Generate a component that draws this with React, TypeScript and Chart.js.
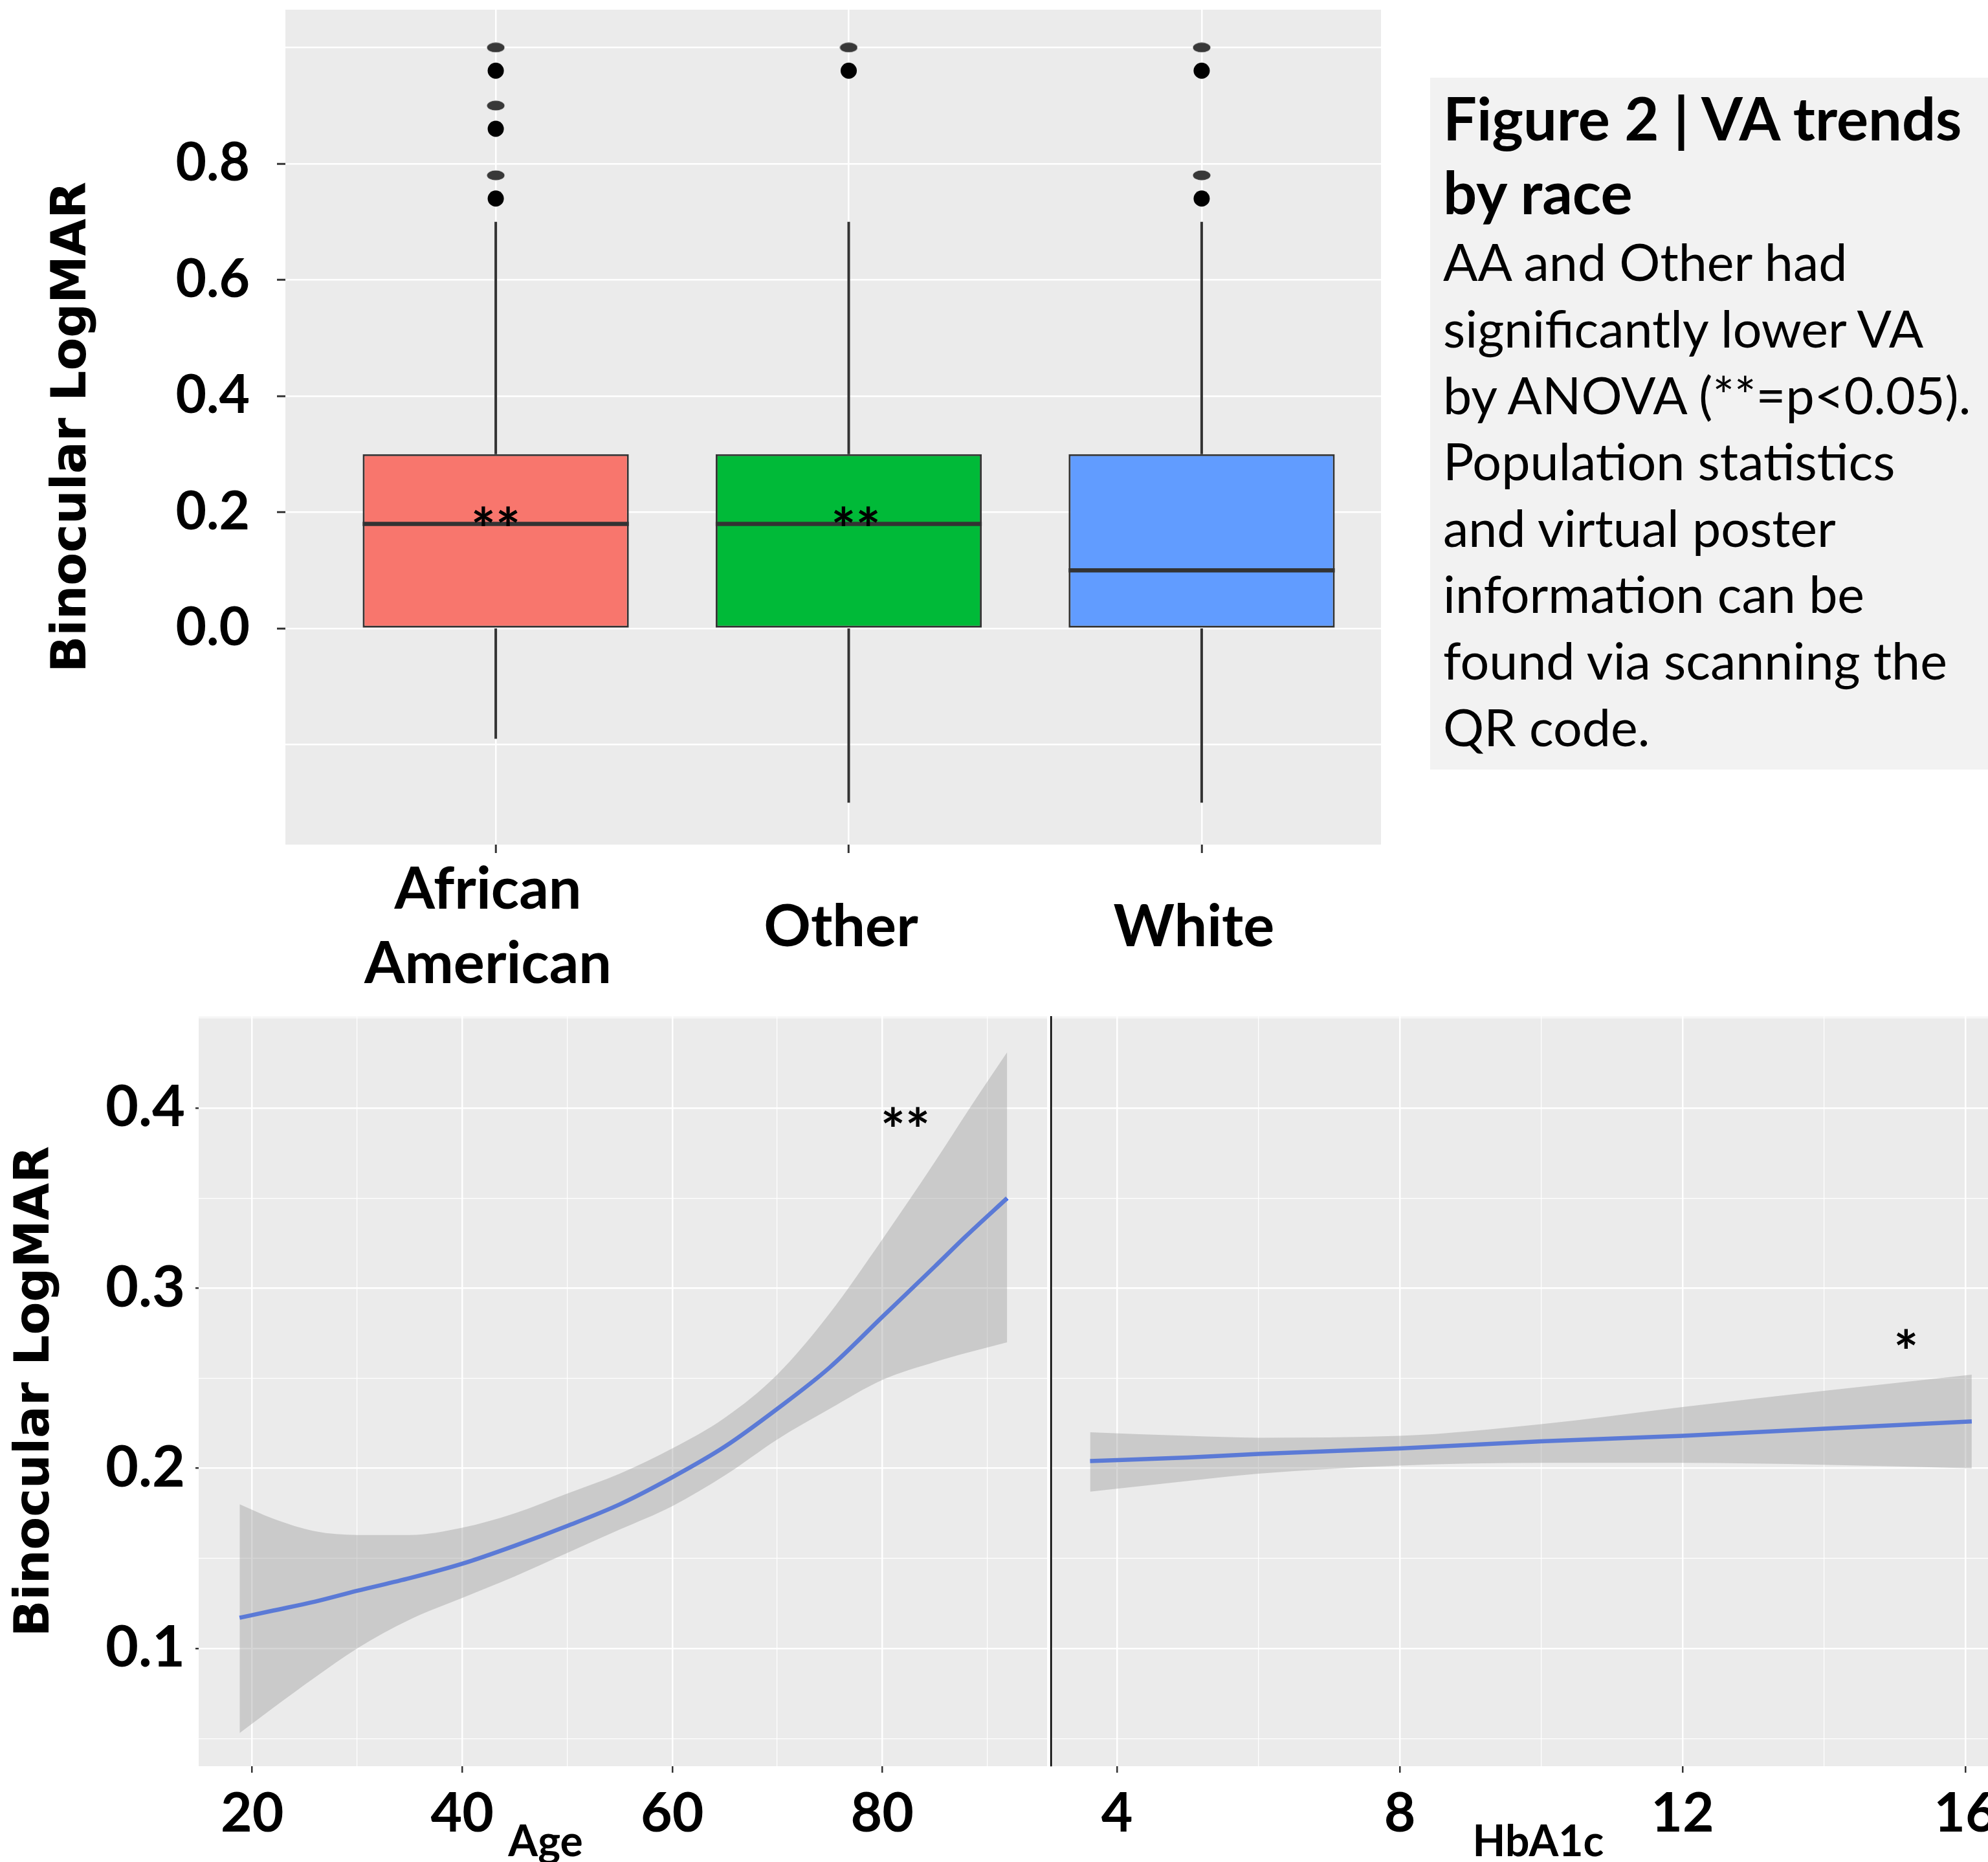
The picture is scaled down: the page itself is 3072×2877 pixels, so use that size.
import React, { useEffect, useRef } from 'react';
import { Chart, registerables } from 'chart.js';

Chart.register(...registerables);
Chart.defaults.font.family = 'Lato';

// ---------- Top panel: box plot by race ----------
const raceLabels: string[][] = [['African', 'American'], ['Other'], ['White']];
const racePositions = [1, 2, 3];
const boxLower = [0, 0, 0];
const boxUpper = [0.3, 0.3, 0.3];
const boxMedian = [0.18, 0.18, 0.1];
const whiskerMin = [-0.19, -0.3, -0.3];
const whiskerMax = [0.7, 0.7, 0.7];
const boxFill = ['#F8766D', '#00BA38', '#619CFF'];
const outlierGrey = [[1.0, 0.9, 0.78], [1.0], [1.0, 0.78]];
const outlierBlack = [[0.96, 0.86, 0.74], [0.96], [0.96, 0.74]];
const boxSigText = ['**', '**'];
const boxSigX = [1, 2.02];
const boxSigY = [0.19, 0.19];
const topGridValues = [-0.2, 0, 0.2, 0.4, 0.6, 0.8, 1.0];
const topLabelValues = [0, 0.2, 0.4, 0.6, 0.8];

// ---------- Bottom panels: smoothed trends ----------
const ageValues = [18.8, 22, 26, 30, 35, 40, 45, 50, 55, 60, 65, 70, 75, 80, 85, 88, 91.9];
const ageFit = [0.117, 0.121, 0.126, 0.132, 0.139, 0.147, 0.157, 0.168, 0.18, 0.195, 0.212, 0.233, 0.256, 0.284, 0.312, 0.329, 0.35];
const ageUpper = [0.18, 0.172, 0.165, 0.163, 0.163, 0.167, 0.175, 0.186, 0.197, 0.211, 0.228, 0.252, 0.286, 0.327, 0.37, 0.397, 0.431];
const ageLower = [0.053, 0.067, 0.084, 0.1, 0.116, 0.128, 0.14, 0.153, 0.166, 0.179, 0.196, 0.216, 0.233, 0.249, 0.259, 0.264, 0.27];
const hbValues = [3.62, 5, 6, 8, 10, 12, 14, 16.09];
const hbFit = [0.204, 0.206, 0.208, 0.211, 0.215, 0.218, 0.222, 0.226];
const hbUpper = [0.22, 0.218, 0.217, 0.218, 0.2245, 0.234, 0.243, 0.252];
const hbLower = [0.187, 0.193, 0.197, 0.2015, 0.203, 0.203, 0.202, 0.2];
const ageSigText = ['**'];
const ageSigX = [82.2];
const ageSigY = [0.394];
const hbSigText = ['*'];
const hbSigX = [15.16];
const hbSigY = [0.271];
const ageMajor = [20, 40, 60, 80];
const ageMinor = [30, 50, 70, 90];
const hbMajor = [4, 8, 12, 16];
const hbMinor = [6, 10, 14];
const trendMajor = [0.1, 0.2, 0.3, 0.4];
const trendMinor = [0.05, 0.15, 0.25, 0.35, 0.45];

const isIn = (list: number[], v: number) => v !== undefined && list.some((t) => Math.abs(t - v) < 1e-6);
const merged = (a: number[], b: number[]) => [...a, ...b].sort((p, q) => p - q).map((value) => ({ value }));

const fixY = (w: number) => (s: any) => {
  s.width = w;
  s.paddingTop = 0; s.paddingBottom = 0; s.paddingLeft = 0; s.paddingRight = 0;
};
const fixX = (h: number) => (s: any) => {
  s.height = h;
  s.paddingTop = 0; s.paddingBottom = 0; s.paddingLeft = 0; s.paddingRight = 0;
};

const panelBg = {
  id: 'panelBg',
  beforeDraw(chart: any) {
    const a = chart.chartArea;
    const c = chart.ctx;
    c.save();
    c.fillStyle = '#EBEBEB';
    c.fillRect(a.left, a.top, a.right - a.left, a.bottom - a.top);
    c.restore();
  },
};

const markPlugin = (texts: string[], xs: number[], ys: number[], size: number) => ({
  id: 'sigMarks',
  afterDatasetsDraw(chart: any) {
    const { ctx, scales } = chart;
    ctx.save();
    ctx.fillStyle = '#000';
    ctx.font = `bold ${size}px Lato`;
    ctx.textAlign = 'center';
    ctx.textBaseline = 'alphabetic';
    texts.forEach((t, i) => {
      const px = scales.x.getPixelForValue(xs[i]);
      const py = scales.y.getPixelForValue(ys[i]);
      ctx.fillText(t, px, py + size * 0.56);
    });
    ctx.restore();
  },
});

const captionPlugin = (text: string, cx: number, baseline: number, size: number) => ({
  id: 'caption',
  afterDraw(chart: any) {
    const c = chart.ctx;
    c.save();
    c.fillStyle = '#000';
    c.font = `bold ${size}px Lato`;
    c.textAlign = 'center';
    c.textBaseline = 'alphabetic';
    c.fillText(text, cx, baseline);
    c.restore();
  },
});

const tickFont = (size: number) => ({ family: 'Lato', weight: 'bold' as const, size });
const yTitle = (pad: number) => ({
  display: true,
  text: 'Binocular LogMAR',
  color: '#000',
  font: { family: 'DejaVu Sans', weight: 'bold' as const, size: 74, lineHeight: 1.2 },
  padding: { top: pad, bottom: 0 },
});

// layout (pixels)
const TOP_W = 2200, TOP_H = 1560;
const TOP_AREA = { left: 441, right: 2134, top: 15, bottom: 1305 };
const BL = { left: 0, top: 1540, w: 1620, h: 1337 };
const BL_AREA = { left: 307, right: 1618, top: 31, bottom: 1189 };
const BR = { left: 1600, top: 1540, w: 1472, h: 1337 };
const BR_AREA = { left: 24, top: 31, bottom: 1189 };
const BOX_FRACTION = 0.754;

function makeGreyDot() {
  const c = document.createElement('canvas');
  c.width = 28; c.height = 16;
  const g = c.getContext('2d')!;
  g.fillStyle = '#383838';
  g.beginPath();
  g.ellipse(14, 8, 13.5, 7.5, 0, 0, Math.PI * 2);
  g.fill();
  return c;
}

function buildTop(canvas: HTMLCanvasElement) {
  const hw = BOX_FRACTION / 2;
  const whiskers: any[] = [];
  const medians: any[] = [];
  const greyPts: any[] = [];
  const blackPts: any[] = [];
  racePositions.forEach((x, i) => {
    whiskers.push({ x, y: boxUpper[i] }, { x, y: whiskerMax[i] }, { x, y: null }, { x, y: boxLower[i] }, { x, y: whiskerMin[i] }, { x, y: null });
    medians.push({ x: x - hw, y: boxMedian[i] }, { x: x + hw, y: boxMedian[i] }, { x, y: null });
    outlierGrey[i].forEach((y) => greyPts.push({ x, y }));
    outlierBlack[i].forEach((y) => blackPts.push({ x, y }));
  });
  const greyDot = makeGreyDot();
  return new Chart(canvas, {
    type: 'line',
    data: {
      datasets: [
        {
          type: 'bar',
          data: racePositions.map((x, i) => ({ x, y: [boxLower[i], boxUpper[i]] })) as any,
          backgroundColor: boxFill,
          borderColor: '#333333',
          borderWidth: 3,
          borderSkipped: false,
          categoryPercentage: 1,
          barPercentage: BOX_FRACTION,
          order: 5,
        } as any,
        { data: whiskers, borderColor: '#333333', borderWidth: 4, pointRadius: 0, spanGaps: false, order: 4 },
        { data: medians, borderColor: '#333333', borderWidth: 6.5, pointRadius: 0, spanGaps: false, order: 3 },
        { data: greyPts, showLine: false, pointStyle: greyDot as any, pointRadius: 8, order: 2 },
        { data: blackPts, showLine: false, pointStyle: 'circle', pointRadius: 12.5, pointBackgroundColor: '#000', pointBorderWidth: 0, order: 1 },
      ],
    },
    options: {
      responsive: false,
      animation: false,
      devicePixelRatio: 1,
      layout: { padding: { left: 0, top: TOP_AREA.top, right: TOP_W - TOP_AREA.right, bottom: 0 } },
      plugins: { legend: { display: false }, tooltip: { enabled: false } },
      scales: {
        x: {
          type: 'linear',
          min: 0.404,
          max: 3.508,
          offset: false,
          afterBuildTicks: (s: any) => { s.ticks = racePositions.map((value) => ({ value })); },
          afterFit: fixX(TOP_H - TOP_AREA.bottom),
          border: { display: false },
          grid: { color: '#FFFFFF', lineWidth: 2.5, tickLength: 13, tickWidth: 3, tickColor: '#333333', offset: false },
          ticks: {
            autoSkip: false,
            maxRotation: 0,
            color: '#000',
            padding: 57,
            labelOffset: -12,
            crossAlign: 'center',
            font: { family: 'Lato', weight: 'bold', size: 90, lineHeight: 1.28 },
            callback: (v: any) => raceLabels[racePositions.indexOf(Number(v))] ?? '',
          },
        } as any,
        y: {
          type: 'linear',
          min: -0.372,
          max: 1.065,
          afterBuildTicks: (s: any) => { s.ticks = topGridValues.map((value) => ({ value })); },
          afterFit: fixY(TOP_AREA.left),
          border: { display: false },
          grid: {
            color: '#FFFFFF',
            lineWidth: 2.5,
            tickLength: 13,
            tickWidth: 3,
            tickColor: (ctx: any) => (isIn(topLabelValues, ctx.tick?.value) ? '#333333' : 'rgba(0,0,0,0)'),
          },
          ticks: {
            autoSkip: false,
            color: '#000',
            padding: 42,
            font: tickFont(82),
            callback: (v: any) => (isIn(topLabelValues, Number(v)) ? Number(v).toFixed(1) : ''),
          },
          title: yTitle(68),
        } as any,
      },
    },
    plugins: [panelBg, markPlugin(boxSigText, boxSigX, boxSigY, 90)],
  });
}

function trendDatasets(xs: number[], fit: number[], up: number[], lo: number[]) {
  return [
    {
      data: xs.map((x, i) => ({ x, y: up[i] })),
      borderWidth: 0,
      borderColor: 'rgba(0,0,0,0)',
      backgroundColor: 'rgba(153,153,153,0.4)',
      fill: '+1',
      pointRadius: 0,
      cubicInterpolationMode: 'monotone',
    },
    {
      data: xs.map((x, i) => ({ x, y: lo[i] })),
      borderWidth: 0,
      borderColor: 'rgba(0,0,0,0)',
      fill: false,
      pointRadius: 0,
      cubicInterpolationMode: 'monotone',
    },
    {
      data: xs.map((x, i) => ({ x, y: fit[i] })),
      borderColor: '#3366FF',
      borderWidth: 6.5,
      fill: false,
      pointRadius: 0,
      cubicInterpolationMode: 'monotone',
    },
  ] as any[];
}

function trendYScale(width: number, showLabels: boolean) {
  return {
    type: 'linear',
    min: 0.0346,
    max: 0.4507,
    afterBuildTicks: (s: any) => { s.ticks = merged(trendMajor, trendMinor); },
    afterFit: fixY(width),
    border: showLabels ? { display: false } : { display: true, color: '#000000', width: 2.5 },
    grid: {
      color: '#FFFFFF',
      lineWidth: (ctx: any) => (isIn(trendMajor, ctx.tick?.value) ? 2.5 : 1.2),
      drawTicks: showLabels,
      tickLength: 5,
      tickWidth: 2.5,
      tickColor: (ctx: any) => (isIn(trendMajor, ctx.tick?.value) ? '#333333' : 'rgba(0,0,0,0)'),
    },
    ticks: {
      display: showLabels,
      autoSkip: false,
      color: '#000',
      padding: 16,
      font: tickFont(88),
      callback: (v: any) => (isIn(trendMajor, Number(v)) ? Number(v).toFixed(1) : ''),
    },
    title: showLabels ? yTitle(11) : { display: false },
  } as any;
}

function trendXScale(min: number, max: number, major: number[], minor: number[], height: number) {
  return {
    type: 'linear',
    min,
    max,
    afterBuildTicks: (s: any) => { s.ticks = merged(major, minor); },
    afterFit: fixX(height),
    border: { display: false },
    grid: {
      color: '#FFFFFF',
      lineWidth: (ctx: any) => (isIn(major, ctx.tick?.value) ? 2.5 : 1.2),
      tickLength: 10,
      tickWidth: 2.5,
      tickColor: (ctx: any) => (isIn(major, ctx.tick?.value) ? '#333333' : 'rgba(0,0,0,0)'),
    },
    ticks: {
      autoSkip: false,
      maxRotation: 0,
      color: '#000',
      padding: 14,
      font: tickFont(84),
      callback: (v: any) => (isIn(major, Number(v)) ? String(v) : ''),
    },
  } as any;
}

function buildAge(canvas: HTMLCanvasElement) {
  return new Chart(canvas, {
    type: 'line',
    data: { datasets: trendDatasets(ageValues, ageFit, ageUpper, ageLower) },
    options: {
      responsive: false,
      animation: false,
      devicePixelRatio: 1,
      layout: { padding: { left: 0, top: BL_AREA.top, right: BL.w - BL_AREA.right, bottom: 0 } },
      plugins: { legend: { display: false }, tooltip: { enabled: false } },
      scales: {
        x: trendXScale(14.9, 95.7, ageMajor, ageMinor, BL.h - BL_AREA.bottom),
        y: trendYScale(BL_AREA.left, true),
      },
    },
    plugins: [panelBg, markPlugin(ageSigText, ageSigX, ageSigY, 90), captionPlugin('Age', 843, 1328, 66)],
  });
}

function buildHb(canvas: HTMLCanvasElement) {
  return new Chart(canvas, {
    type: 'line',
    data: { datasets: trendDatasets(hbValues, hbFit, hbUpper, hbLower) },
    options: {
      responsive: false,
      animation: false,
      devicePixelRatio: 1,
      layout: { padding: { left: 0, top: BR_AREA.top, right: 0, bottom: 0 } },
      plugins: { legend: { display: false }, tooltip: { enabled: false } },
      scales: {
        x: trendXScale(3.066, 16.32, hbMajor, hbMinor, BR.h - BR_AREA.bottom),
        y: trendYScale(BR_AREA.left, false),
      },
    },
    plugins: [panelBg, markPlugin(hbSigText, hbSigX, hbSigY, 90), captionPlugin('HbA1c', 777, 1328, 66)],
  });
}

const bodyLines = [
  'AA and Other had',
  'significantly lower VA',
  'by ANOVA (**=p<0.05).',
  'Population statistics',
  'and virtual poster',
  'information can be',
  'found via scanning the',
  'QR code.',
];
const titleLines = ['Figure 2 | VA trends', 'by race'];

export default function App() {
  const topRef = useRef<HTMLCanvasElement>(null);
  const ageRef = useRef<HTMLCanvasElement>(null);
  const hbRef = useRef<HTMLCanvasElement>(null);

  useEffect(() => {
    const charts = [buildTop(topRef.current!), buildAge(ageRef.current!), buildHb(hbRef.current!)];
    return () => charts.forEach((c) => c.destroy());
  }, []);

  const abs = (l: number, t: number, w: number, h: number): React.CSSProperties => ({
    position: 'absolute', left: l, top: t, width: w, height: h, display: 'block',
  });

  return (
    <div style={{ position: 'absolute', left: 0, top: 0, width: 3072, height: 2877, background: '#FFFFFF', overflow: 'hidden' }}>
      <canvas ref={topRef} width={TOP_W} height={TOP_H} style={abs(0, 0, TOP_W, TOP_H)} />
      <canvas ref={ageRef} width={BL.w} height={BL.h} style={abs(BL.left, BL.top, BL.w, BL.h)} />
      <canvas ref={hbRef} width={BR.w} height={BR.h} style={abs(BR.left, BR.top, BR.w, BR.h)} />
      <div
        style={{
          position: 'absolute', left: 2210, top: 120, width: 862, height: 1069, background: '#F2F2F2',
          boxSizing: 'border-box', paddingLeft: 20, paddingTop: 5.4, fontFamily: 'Lato', color: '#000',
          overflow: 'hidden', whiteSpace: 'nowrap',
        }}
      >
        <div style={{ fontWeight: 700, fontSize: 92, lineHeight: '114px' }}>
          {titleLines.map((t, i) => <div key={i}>{t}</div>)}
        </div>
        <div style={{ fontWeight: 400, fontSize: 79, lineHeight: '102.6px' }}>
          {bodyLines.map((t, i) => <div key={i}>{t}</div>)}
        </div>
      </div>
    </div>
  );
}
